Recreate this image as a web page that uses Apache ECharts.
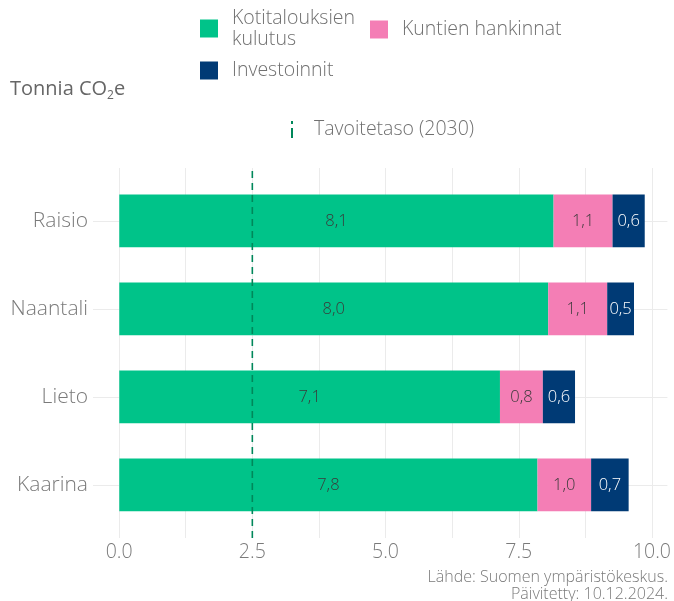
<!DOCTYPE html>
<html>
<head>
<meta charset="utf-8">
<script src="https://cdn.jsdelivr.net/npm/echarts@6/dist/echarts.min.js"></script>
<style>
  html, body { margin: 0; padding: 0; background: #ffffff; }
  #chart { width: 674px; height: 601px; }
</style>
</head>
<body>
<div id="chart"></div>
<script>
// Municipalities, top to bottom
const categories = ['Raisio', 'Naantali', 'Lieto', 'Kaarina'];
// Per-capita emissions by source (tonnes CO2e)
const kotitaloudet = [8.1, 8.0, 7.1, 7.8];
const hankinnat = [1.1, 1.1, 0.8, 1.0];
const investoinnit = [0.6, 0.5, 0.6, 0.7];
// 2030 target level
const tavoite = 2.5;
// Value axis ticks
const xTicks = [0, 2.5, 5, 7.5, 10];
const xMinorTicks = [1.25, 3.75, 6.25, 8.75];

const FONT = '"Open Sans", "Noto Sans", sans-serif';
const WEIGHT = 300;
const GREY = '#7a7a7a';
const GRID_COLOR = '#ebebeb';

const xMin = -0.49, xMax = 10.29;
// y positions of category centres on the panel's value scale (4 = top row)
const yCentres = categories.map((c, i) => categories.length - i);
const yMin = 0.4, yMax = categories.length + 0.6;

const fmt = v => v.toFixed(1).replace('.', ',');

function barSeries(name, data, color, labelColor) {
  return {
    name: name,
    type: 'bar',
    stack: 'total',
    xAxisIndex: 1,
    yAxisIndex: 1,
    barWidth: '60%',
    data: data,
    itemStyle: { color: color },
    label: {
      show: true,
      position: 'inside',
      formatter: p => fmt(p.value),
      color: labelColor,
      fontFamily: FONT,
      fontWeight: WEIGHT,
      fontSize: 16.5
    },
    z: 2
  };
}

const chart = echarts.init(document.getElementById('chart'), null, { renderer: 'canvas' });

const legendText = {
  color: '#707070', fontFamily: FONT, fontWeight: WEIGHT,
  fontSize: 19.5, lineHeight: 21, padding: [0, 0, 0, 9]
};

function legendBox(item, left, top, extra) {
  return Object.assign({
    data: [item],
    left: left, top: top,
    padding: 0,
    itemWidth: 18, itemHeight: 18,
    selectedMode: false,
    textStyle: legendText
  }, extra || {});
}

chart.setOption({
  animation: false,
  backgroundColor: '#ffffff',
  title: {
    left: 5,
    top: 71,
    text: '{a|Tonnia CO}{s|2}{a|e}',
    textStyle: {
      fontWeight: 'normal',
      rich: {
        a: { fontFamily: FONT, fontWeight: 'normal', fontSize: 20, lineHeight: 26, color: '#666666' },
        s: { fontFamily: FONT, fontWeight: 'normal', fontSize: 12, lineHeight: 12, verticalAlign: 'bottom', color: '#666666' }
      }
    }
  },
  legend: [
    legendBox({ name: 'Kotitalouksien kulutus', icon: 'rect' }, 200, 7.5, {
      formatter: n => n.replace(' ', '\n')
    }),
    legendBox({ name: 'Kuntien hankinnat', icon: 'rect' }, 370, 19),
    legendBox({ name: 'Investoinnit', icon: 'rect' }, 200, 60),
    legendBox({ name: 'Tavoitetaso (2030)', icon: 'path://M0,0h2v3h-2z M0,7h2v10h-2z' }, 291, 119, {
      itemWidth: 2, itemHeight: 17,
      textStyle: Object.assign({}, legendText, { padding: [0, 0, 0, 16] })
    })
  ],
  grid: [
    { left: 93, top: 168, width: 578, height: 370, containLabel: false },
    { left: 93, top: 176.8, width: 578, height: 352, containLabel: false }
  ],
  xAxis: [
    {
      gridIndex: 0,
      type: 'value',
      min: xMin,
      max: xMax,
      axisLine: { show: false, onZero: false },
      axisTick: { show: false, customValues: xTicks.concat(xMinorTicks) },
      splitLine: { show: true, lineStyle: { color: GRID_COLOR, width: 1 } },
      axisLabel: {
        customValues: xTicks,
        formatter: v => v.toFixed(1),
        color: GREY,
        fontFamily: FONT,
        fontWeight: WEIGHT,
        fontSize: 19.5,
        margin: 4
      }
    },
    {
      gridIndex: 1,
      type: 'value',
      min: xMin,
      max: xMax,
      show: false
    }
  ],
  yAxis: [
    {
      gridIndex: 0,
      type: 'value',
      min: yMin,
      max: yMax,
      axisLine: { show: false, onZero: false },
      axisTick: { show: false, customValues: yCentres },
      splitLine: { show: true, lineStyle: { color: GRID_COLOR, width: 1 } },
      axisLabel: {
        customValues: yCentres,
        formatter: v => categories[categories.length - Math.round(v)],
        color: GREY,
        fontFamily: FONT,
        fontWeight: WEIGHT,
        fontSize: 21,
        margin: 5
      }
    },
    {
      gridIndex: 1,
      type: 'category',
      data: categories,
      inverse: true,
      show: false
    }
  ],
  series: [
    barSeries('Kotitalouksien kulutus', kotitaloudet, '#00c389', '#3a3a3a'),
    barSeries('Kuntien hankinnat', hankinnat, '#f47eb5', '#3a3a3a'),
    barSeries('Investoinnit', investoinnit, '#003a75', '#ffffff'),
    {
      name: 'Tavoitetaso (2030)',
      type: 'line',
      xAxisIndex: 0,
      yAxisIndex: 0,
      data: [[tavoite, yMin], [tavoite, yMax]],
      symbol: 'none',
      itemStyle: { color: '#00875a' },
      lineStyle: { color: '#00875a', width: 1.6, type: [7, 5] },
      z: 5
    }
  ],
  graphic: [
    {
      type: 'text',
      x: 668,
      y: 569,
      style: {
        text: 'Lähde: Suomen ympäristökeskus.\nPäivitetty: 10.12.2024.',
        align: 'right',
        verticalAlign: 'top',
        fill: GREY,
        font: '300 16px "Open Sans", "Noto Sans", sans-serif',
        lineHeight: 17
      }
    }
  ]
});
</script>
</body>
</html>
